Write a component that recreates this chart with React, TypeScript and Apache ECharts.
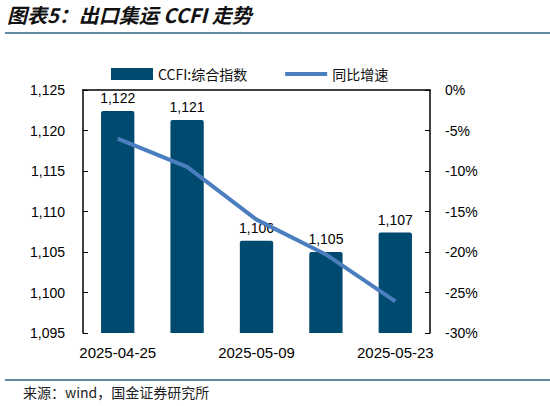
import React, { useEffect, useRef } from "react";
import * as echarts from "echarts";

const categories = ["2025-04-25", "2025-05-02", "2025-05-09", "2025-05-16", "2025-05-23"];
const ccfiValues = [1122.4, 1121.3, 1106.4, 1105.0, 1107.4];
const yoyValues = [-6.0, -9.5, -16.0, -20.3, -26.1];
const leftTicks = { min: 1095, max: 1125, interval: 5 };
const rightTicks = { min: -30, max: 0, interval: 5 };
const titleText = "图表5：出口集运 CCFI 走势";
const sourceText = "来源：wind，国金证券研究所";
const seriesNames = ["CCFI:综合指数", "同比增速"];

const NUM_FONT = "Liberation Sans, Arial, sans-serif";
const CJK_FONT = "'Noto Sans CJK SC', sans-serif";

export default function App() {
  const ref = useRef<HTMLDivElement>(null);
  useEffect(() => {
    document.body.style.margin = "0";
    if (!ref.current) return;
    const chart = echarts.init(ref.current, undefined, { renderer: "svg" });
    chart.setOption({
      animation: false,
      backgroundColor: "#ffffff",
      graphic: [
        {
          type: "text",
          left: 7,
          top: 4,
          style: {
            text: titleText,
            font: `italic bold 20px ${CJK_FONT}`,
            fill: "#111111",
          },
        },
        {
          type: "line",
          shape: { x1: 5, y1: 33, x2: 550, y2: 33 },
          style: { stroke: "#2d6283", lineWidth: 1.5 },
        },
        {
          type: "line",
          shape: { x1: 5, y1: 380, x2: 550, y2: 380 },
          style: { stroke: "#2d6283", lineWidth: 1.5 },
        },
        {
          type: "text",
          left: 23,
          top: 385,
          style: {
            text: sourceText,
            font: `14px ${CJK_FONT}`,
            fill: "#222222",
          },
        },
      ],
      legend: {
        top: 62,
        left: 106,
        itemWidth: 42,
        itemHeight: 12,
        itemGap: 38,
        textStyle: { fontSize: 14, color: "#111", fontFamily: CJK_FONT },
        data: [
          { name: seriesNames[0], icon: "rect" },
          { name: seriesNames[1], icon: "path://M0,0h42v4h-42z" },
        ],
      },
      grid: { left: 83, right: 120, top: 90, bottom: 73 },
      xAxis: {
        type: "category",
        data: categories,
        boundaryGap: true,
        axisLine: { lineStyle: { color: "#000", width: 1.5 } },
        axisTick: { inside: true, interval: 0, length: 5, lineStyle: { color: "#000" } },
        axisLabel: {
          interval: 1,
          color: "#000",
          fontSize: 15,
          fontFamily: NUM_FONT,
          margin: 12,
        },
      },
      yAxis: [
        {
          type: "value",
          min: leftTicks.min,
          max: leftTicks.max,
          interval: leftTicks.interval,
          splitLine: { show: false },
          axisLine: { show: true, lineStyle: { color: "#000", width: 1.5 } },
          axisTick: { show: true, inside: true, length: 5, lineStyle: { color: "#000" } },
          axisLabel: {
            color: "#000",
            fontSize: 14,
            fontFamily: NUM_FONT,
            margin: 18,
            formatter: (v: number) => v.toLocaleString("en-US"),
          },
        },
        {
          type: "value",
          min: rightTicks.min,
          max: rightTicks.max,
          interval: rightTicks.interval,
          position: "right",
          splitLine: { show: false },
          axisLine: { show: true, lineStyle: { color: "#000", width: 1.5 } },
          axisTick: { show: true, inside: true, length: 5, lineStyle: { color: "#000" } },
          axisLabel: {
            color: "#000",
            fontSize: 14,
            fontFamily: NUM_FONT,
            margin: 15,
            formatter: (v: number) => `${v}%`,
          },
        },
      ],
      series: [
        {
          name: seriesNames[0],
          type: "bar",
          data: ccfiValues,
          barWidth: "48%",
          itemStyle: { color: "#004a6f", borderRadius: [2, 2, 0, 0] },
          label: {
            show: true,
            position: "top",
            distance: 6,
            color: "#000",
            fontSize: 14,
            fontFamily: NUM_FONT,
            formatter: (p: any) => Math.round(p.value).toLocaleString("en-US"),
          },
        },
        {
          name: seriesNames[1],
          type: "line",
          yAxisIndex: 1,
          data: yoyValues,
          symbol: "none",
          lineStyle: { color: "#4a7ebe", width: 4 },
          itemStyle: { color: "#4a7ebe" },
        },
      ],
    });
    return () => chart.dispose();
  }, []);
  return <div ref={ref} style={{ width: 550, height: 406 }} />;
}
